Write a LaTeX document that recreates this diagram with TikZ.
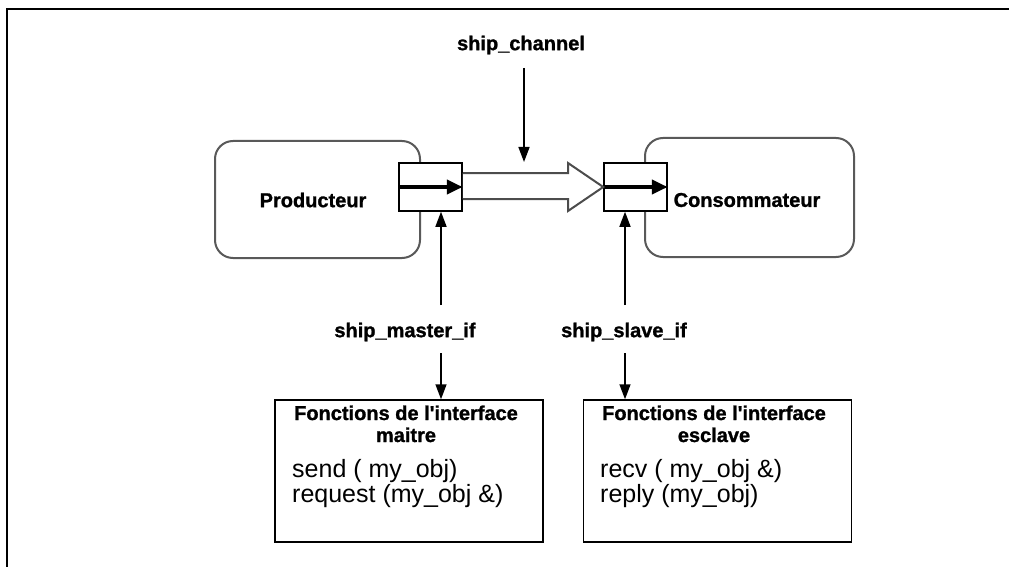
\documentclass[tikz,border=0pt]{standalone}
\usepackage{fontspec}
\setmainfont{Liberation Sans}
\newfontfamily\heavy[FakeBold=1.2]{Liberation Sans Bold}
\usetikzlibrary{arrows.meta,calc}
\begin{document}
\begin{tikzpicture}[x=1pt,y=-1pt,
  lbl/.style={font=\fontsize{20}{24}\selectfont\heavy, inner sep=0pt},
  fnhead/.style={font=\fontsize{20}{24}\selectfont\heavy, inner sep=0pt, anchor=base},
  fnline/.style={font=\fontsize{25}{29}\selectfont, inner sep=0pt, anchor=base west},
  block/.style={draw=black!65, line width=2pt, rounded corners=18pt, inner sep=0pt},
  port/.style={draw, fill=white, line width=1.5pt, minimum width=63pt, minimum height=48pt, inner sep=0pt},
  ifbox/.style={draw, line width=1.5pt, minimum width=268pt, minimum height=142pt, inner sep=0pt},
  sig/.style={line width=1.5pt, -{Triangle[length=15pt,width=11pt]}},
  flow/.style={line width=4pt, -{Triangle[length=16pt,width=14pt]}},
  pipe/.style={draw=black!70, fill=white, line width=2pt, line join=miter}]

\useasboundingbox (0,0) rectangle (1009,567);

% page frame
\draw[line width=2pt] (1009,9) -- (7,9) -- (7,567);

% modules
\node[block, minimum width=205pt, minimum height=117pt] (prod) at (317.5,199.5) {};
\node[lbl] (prodtxt) at (313,200) {Producteur};
\node[block, minimum width=209pt, minimum height=119pt] (cons) at (749.5,197.5) {};
\node[lbl] (constxt) at (747,200) {Consommateur};

% ports
\node[port] (prodport) at (430.5,187) {};
\node[port] (consport) at (635.5,187) {};
\draw[flow] (prodport.west) -- (prodport.east);
\draw[flow] (consport.west) -- (consport.east);

% channel between the ports
\draw[pipe] ($(prodport.east)+(0,-14)$) -- (568,173) -- (568,163) -- (consport.west)
  -- (568,211) -- (568,199) -- ($(prodport.east)+(0,12)$);

% channel label
\node[lbl] (chan) at (521,45) {ship\_channel};
\coordinate (chantop) at (524,68);
\draw[sig] (chantop) -- (524,162);

% interface labels
\node[lbl] (mif) at (405,332) {ship\_master\_if};
\node[lbl] (sif) at (624,332) {ship\_slave\_if};
\coordinate (mup) at (441,305);
\coordinate (mdn) at (441,353);
\coordinate (sup) at (625,305);
\coordinate (sdn) at (625,353);

% interface function boxes
\node[ifbox] (mbox) at (409,471) {};
\node[ifbox] (sbox) at (717.5,471) {};

\draw[sig] (mup) -- (mup |- prodport.south);
\draw[sig] (mdn) -- (mdn |- mbox.north);
\draw[sig] (sup) -- (sup |- consport.south);
\draw[sig] (sdn) -- (sdn |- sbox.north);

% master functions
\node[fnhead] (mh1) at (406,420) {Fonctions de l'interface};
\node[fnhead] (mh2) at (406,442) {maitre};
\node[fnline] (mf1) at (292,477) {send ( my\_obj)};
\node[fnline] (mf2) at (292,502) {request (my\_obj \&)};

% slave functions
\node[fnhead] (sh1) at (714,420) {Fonctions de l'interface};
\node[fnhead] (sh2) at (714,442) {esclave};
\node[fnline] (sf1) at (600,477) {recv ( my\_obj \&)};
\node[fnline] (sf2) at (600,502) {reply (my\_obj)};
\end{tikzpicture}
\end{document}
